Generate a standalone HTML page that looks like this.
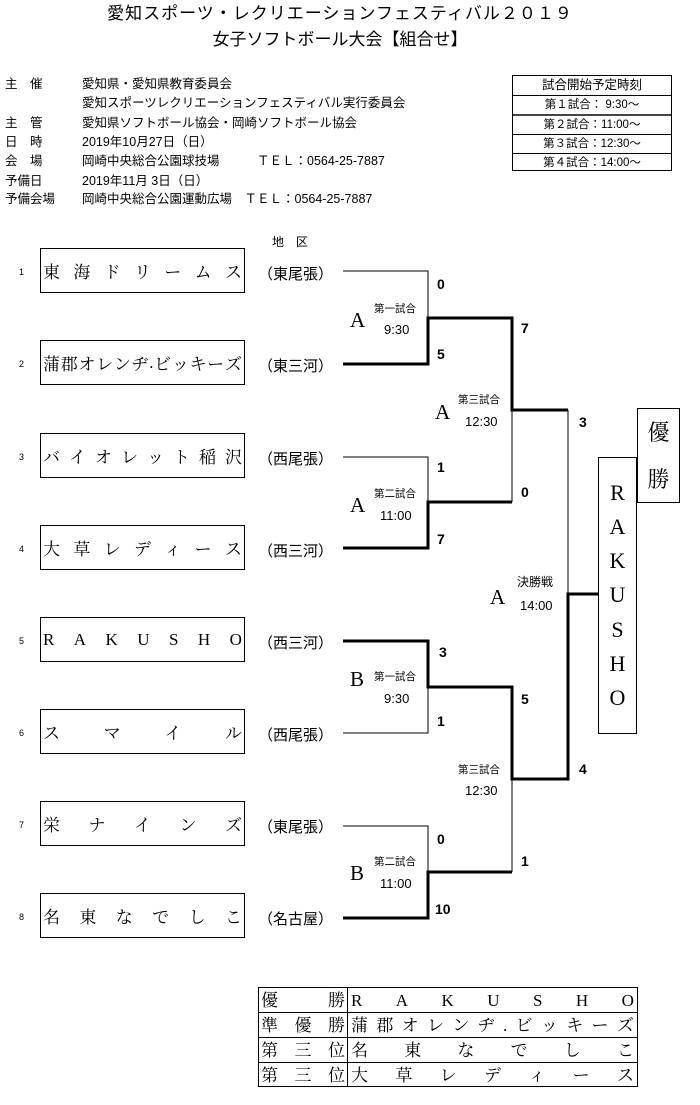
<!DOCTYPE html>
<html><head><meta charset="utf-8"><style>
body{margin:0;width:700px;height:1105px;background:#fff;position:relative;overflow:hidden;font-family:"Liberation Sans","Noto Sans CJK JP",sans-serif;color:#000}
.a{position:absolute;white-space:nowrap;line-height:1}
.t{font-size:17px}
.i{font-size:12.5px}
.box{position:absolute;left:40px;height:45px;border:1px solid #000;display:flex;justify-content:space-between;align-items:center;padding:0 2px;box-sizing:border-box;width:205px;font-family:"Liberation Serif","Noto Serif CJK SC",serif;font-size:17px}
.num{position:absolute;left:19px;font-size:9px}
.reg{position:absolute;left:258px;font-size:15px}
.sc{position:absolute;font-size:14px;font-weight:bold}
.g{position:absolute;font-family:"Liberation Serif",serif;font-size:21px}
.s{position:absolute;font-size:10.5px}
.tm{position:absolute;font-size:13px}
.r{display:flex;height:24px;line-height:25px}
</style></head><body>
<div class="a t" style="left:0;width:680px;text-align:center;top:5px;letter-spacing:1px">愛知スポーツ・レクリエーションフェスティバル２０１９</div>
<div class="a t" style="left:0;width:680px;text-align:center;top:31px">女子ソフトボール大会【組合せ】</div>

<div class="a i" style="left:5px;top:78px">主　催</div><div class="a i" style="left:82px;top:78px">愛知県・愛知県教育委員会</div>
<div class="a i" style="left:82px;top:97px">愛知スポーツレクリエーションフェスティバル実行委員会</div>
<div class="a i" style="left:5px;top:117px">主　管</div><div class="a i" style="left:82px;top:117px">愛知県ソフトボール協会・岡崎ソフトボール協会</div>
<div class="a i" style="left:5px;top:136px">日　時</div><div class="a i" style="left:82px;top:136px">2019年10月27日（日）</div>
<div class="a i" style="left:5px;top:155px">会　場</div><div class="a i" style="left:82px;top:155px">岡崎中央総合公園球技場　　　ＴＥＬ：0564-25-7887</div>
<div class="a i" style="left:5px;top:175px">予備日</div><div class="a i" style="left:82px;top:175px">2019年11月 3日（日）</div>
<div class="a i" style="left:5px;top:193px">予備会場</div><div class="a i" style="left:82px;top:193px">岡崎中央総合公園運動広場　ＴＥＬ：0564-25-7887</div>

<div style="position:absolute;left:512px;top:75px;width:160px;height:96px;border:1px solid #000;box-sizing:border-box;font-size:11.5px">
<div style="height:19px;border-bottom:1px solid #000;text-align:center;line-height:19px;font-size:12.5px">試合開始予定時刻</div>
<div style="height:18px;border-bottom:2px solid #444;text-align:center;line-height:18px">第１試合：&nbsp;9:30～</div>
<div style="height:18px;border-bottom:1px solid #000;text-align:center;line-height:18px">第２試合：11:00～</div>
<div style="height:18px;border-bottom:1px solid #000;text-align:center;line-height:18px">第３試合：12:30～</div>
<div style="height:18px;text-align:center;line-height:18px">第４試合：14:00～</div>
</div>

<div class="a" style="left:272px;top:236px;font-size:12px">地　区</div>

<div class="num" style="top:267px">1</div><div class="box" style="top:248px"><span>東</span><span>海</span><span>ド</span><span>リ</span><span>ー</span><span>ム</span><span>ス</span></div><div class="reg" style="top:263px">（東尾張）</div>
<div class="num" style="top:359px">2</div><div class="box" style="top:340px"><span>蒲</span><span>郡</span><span>オ</span><span>レ</span><span>ン</span><span>ヂ</span><span>.</span><span>ビ</span><span>ッ</span><span>キ</span><span>ー</span><span>ズ</span></div><div class="reg" style="top:355px">（東三河）</div>
<div class="num" style="top:452px">3</div><div class="box" style="top:433px"><span>バ</span><span>イ</span><span>オ</span><span>レ</span><span>ッ</span><span>ト</span><span>稲</span><span>沢</span></div><div class="reg" style="top:448px">（西尾張）</div>
<div class="num" style="top:544px">4</div><div class="box" style="top:525px"><span>大</span><span>草</span><span>レ</span><span>デ</span><span>ィ</span><span>ー</span><span>ス</span></div><div class="reg" style="top:540px">（西三河）</div>
<div class="num" style="top:636px">5</div><div class="box" style="top:617px"><span>R</span><span>A</span><span>K</span><span>U</span><span>S</span><span>H</span><span>O</span></div><div class="reg" style="top:632px">（西三河）</div>
<div class="num" style="top:728px">6</div><div class="box" style="top:709px"><span>ス</span><span>マ</span><span>イ</span><span>ル</span></div><div class="reg" style="top:724px">（西尾張）</div>
<div class="num" style="top:820px">7</div><div class="box" style="top:801px"><span>栄</span><span>ナ</span><span>イ</span><span>ン</span><span>ズ</span></div><div class="reg" style="top:816px">（東尾張）</div>
<div class="num" style="top:912px">8</div><div class="box" style="top:893px"><span>名</span><span>東</span><span>な</span><span>で</span><span>し</span><span>こ</span></div><div class="reg" style="top:908px">（名古屋）</div>

<svg style="position:absolute;left:0;top:0" width="700" height="1105">
<g stroke="#000" fill="none" stroke-width="1">
<path d="M343 271H428V318"/><path d="M343 457H428V502"/><path d="M512 410V502"/><path d="M568 410V594"/>
<path d="M428 687V733H343"/><path d="M343 826H428V872"/><path d="M512 779V872"/>
</g>
<g stroke="#000" fill="none" stroke-width="3">
<path d="M343 364H428V318H512V410H568"/><path d="M343 548H428V502H512"/>
<path d="M343 641H428V687H512V779H568V594H598"/><path d="M343 918H428V872H512"/>
</g>
</svg>

<div class="sc" style="left:437px;top:276px">0</div>
<div class="sc" style="left:521px;top:320px">7</div>
<div class="sc" style="left:437px;top:346px">5</div>
<div class="sc" style="left:579px;top:414px">3</div>
<div class="sc" style="left:437px;top:459px">1</div>
<div class="sc" style="left:521px;top:484px">0</div>
<div class="sc" style="left:437px;top:531px">7</div>
<div class="sc" style="left:439px;top:644px">3</div>
<div class="sc" style="left:521px;top:691px">5</div>
<div class="sc" style="left:437px;top:713px">1</div>
<div class="sc" style="left:579px;top:761px">4</div>
<div class="sc" style="left:437px;top:831px">0</div>
<div class="sc" style="left:521px;top:853px">1</div>
<div class="sc" style="left:435px;top:901px">10</div>

<div class="g" style="left:350px;top:308px">A</div><div class="s" style="left:374px;top:301px">第一試合</div><div class="tm" style="left:384px;top:322px">9:30</div>
<div class="g" style="left:435px;top:400px">A</div><div class="s" style="left:458px;top:392px">第三試合</div><div class="tm" style="left:465px;top:414px">12:30</div>
<div class="g" style="left:350px;top:493px">A</div><div class="s" style="left:374px;top:486px">第二試合</div><div class="tm" style="left:380px;top:508px">11:00</div>
<div class="g" style="left:490px;top:585px">A</div><div class="a" style="left:517px;top:576px;font-size:12px">決勝戦</div><div class="tm" style="left:520px;top:598px">14:00</div>
<div class="g" style="left:350px;top:667px">B</div><div class="s" style="left:374px;top:669px">第一試合</div><div class="tm" style="left:384px;top:691px">9:30</div>
<div class="s" style="left:458px;top:762px">第三試合</div><div class="tm" style="left:465px;top:783px">12:30</div>
<div class="g" style="left:350px;top:861px">B</div><div class="s" style="left:374px;top:854px">第二試合</div><div class="tm" style="left:380px;top:876px">11:00</div>

<div style="position:absolute;left:598px;top:457px;width:39px;height:277px;border:1px solid #000;box-sizing:border-box;display:flex;flex-direction:column;justify-content:space-around;align-items:center;padding:18px 0;font-family:'Liberation Serif',serif;font-size:22px;line-height:1">
<span>R</span><span>A</span><span>K</span><span>U</span><span>S</span><span>H</span><span>O</span></div>
<div style="position:absolute;left:637px;top:408px;width:43px;height:95px;border:1px solid #000;box-sizing:border-box;display:flex;flex-direction:column;justify-content:space-around;align-items:center;font-family:'Noto Serif CJK SC',serif;font-size:22px;line-height:1">
<span>優</span><span>勝</span></div>

<div style="position:absolute;left:258px;top:987px;width:380px;height:100px;border:1px solid #000;box-sizing:border-box;font-family:'Liberation Serif','Noto Serif CJK SC',serif;font-size:17px">
<div class="r" style="border-bottom:1px solid #000"><div style="width:84px;border-right:1px solid #000;display:flex;justify-content:space-between;padding:0 2px"><span>優</span><span>勝</span></div><div style="flex:1;display:flex;justify-content:space-between;padding:0 3px"><span>R</span><span>A</span><span>K</span><span>U</span><span>S</span><span>H</span><span>O</span></div></div>
<div class="r" style="border-bottom:1px solid #000"><div style="width:84px;border-right:1px solid #000;display:flex;justify-content:space-between;padding:0 2px"><span>準</span><span>優</span><span>勝</span></div><div style="flex:1;display:flex;justify-content:space-between;padding:0 3px"><span>蒲</span><span>郡</span><span>オ</span><span>レ</span><span>ン</span><span>ヂ</span><span>.</span><span>ビ</span><span>ッ</span><span>キ</span><span>ー</span><span>ズ</span></div></div>
<div class="r" style="border-bottom:1px solid #000"><div style="width:84px;border-right:1px solid #000;display:flex;justify-content:space-between;padding:0 2px"><span>第</span><span>三</span><span>位</span></div><div style="flex:1;display:flex;justify-content:space-between;padding:0 3px"><span>名</span><span>東</span><span>な</span><span>で</span><span>し</span><span>こ</span></div></div>
<div class="r"><div style="width:84px;border-right:1px solid #000;display:flex;justify-content:space-between;padding:0 2px"><span>第</span><span>三</span><span>位</span></div><div style="flex:1;display:flex;justify-content:space-between;padding:0 3px"><span>大</span><span>草</span><span>レ</span><span>デ</span><span>ィ</span><span>ー</span><span>ス</span></div></div>
</div>
</body></html>
